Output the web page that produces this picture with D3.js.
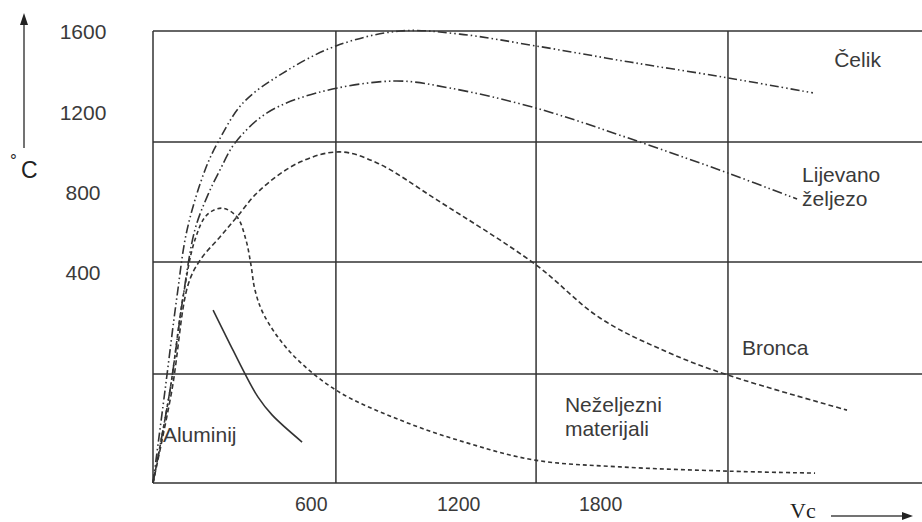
<!DOCTYPE html>
<html>
<head>
<meta charset="utf-8">
<script src="https://cdn.jsdelivr.net/npm/d3@7"></script>
<style>
  html, body { margin: 0; padding: 0; background: #fff; }
  svg { display: block; }
</style>
</head>
<body>
<svg id="chart" width="922" height="522"></svg>
<script>
// ---------- DATA ----------
const seriesNames = ["Čelik", "Lijevano željezo", "Bronca", "Neželjezni materijali", "Aluminij"];

const celik = [[0,0],[51,329],[101,658],[144,896],[220,1108],[275,1207],[380,1345],[549,1451],[773,1547],[1044,1600],[1297,1589],[1619,1547],[2016,1490],[2430,1434],[2789,1381]];
const lijevano = [[0,0],[72,329],[127,658],[177,896],[228,1012],[283,1108],[347,1204],[482,1310],[693,1381],[1023,1423],[1255,1398],[1619,1327],[2058,1207],[2430,1097],[2722,1005]];
const bronca = [[0,0],[80,329],[148,701],[199,789],[283,871],[355,942],[452,1037],[621,1136],[790,1172],[947,1133],[1200,1002],[1614,775],[1889,584],[2172,464],[2430,382],[2933,258]];
const nezeljezni = [[0,0],[72,329],[127,658],[177,860],[228,949],[292,973],[355,942],[393,860],[414,772],[431,683],[469,595],[579,464],[773,329],[1044,223],[1327,142],[1614,81],[1974,57],[2430,42],[2798,35]];
const aluminij = [[254,612],[321,499],[389,386],[444,304],[503,241],[630,145]];

const xTickLabels = [600, 1200, 1800];
const yTickLabels = [1600, 1200, 800, 400];
const xGrid = [773, 1619, 2430];
const yGrid = [386, 782, 1207];

const labelTexts = [["Čelik"], ["Lijevano", "željezo"], ["Bronca"], ["Neželjezni", "materijali"], ["Aluminij"]];
const labelAnchors = [[2879, 1473], [2743, 1065], [2489, 453], [1741, 251], [42, 145]];

// ---------- DRAW ----------
(function () {
const svg = d3.select("#chart");
const L = 153, R = 922, T = 31, B = 483;
const x = d3.scaleLinear().domain([0, 3250]).range([L, R]);
const y = d3.scaleLinear().domain([0, 1600]).range([B, T]);
const yLab = d3.scaleLinear().domain([400, 1600]).range([273, 32]);

const ink = "#333";
const textInk = "#3a3a3a";
const font = "'Liberation Sans', Arial, sans-serif";

// grid
const g = svg.append("g").attr("stroke", ink).attr("stroke-width", 1.5).attr("fill", "none");
g.selectAll(".vg").data(xGrid).join("line").attr("class", "vg")
  .attr("x1", d => x(d)).attr("x2", d => x(d)).attr("y1", T).attr("y2", B);
g.selectAll(".hg").data(yGrid).join("line").attr("class", "hg")
  .attr("x1", L).attr("x2", R).attr("y1", d => y(d)).attr("y2", d => y(d));
// frame
g.append("line").attr("x1", L).attr("x2", L).attr("y1", T).attr("y2", B);
g.append("line").attr("x1", L).attr("x2", R).attr("y1", T).attr("y2", T);
g.append("line").attr("x1", L).attr("x2", R).attr("y1", B).attr("y2", B);

// curves
const line = d3.line().x(d => x(d[0])).y(d => y(d[1])).curve(d3.curveCatmullRom.alpha(0.5));
const styles = [
  {data: celik, dash: "9,3,1.5,3,1.5,3"},
  {data: lijevano, dash: "10,3,1.5,3,1.5,3"},
  {data: bronca, dash: "5,3"},
  {data: nezeljezni, dash: "4,3"},
  {data: aluminij, dash: null}
];
svg.append("g").selectAll("path").data(styles).join("path")
  .attr("d", d => line(d.data))
  .attr("fill", "none")
  .attr("stroke", "#333")
  .attr("stroke-width", 1.6)
  .attr("stroke-dasharray", d => d.dash);

// x tick labels
svg.append("g").selectAll("text").data(xTickLabels).join("text")
  .attr("x", d => x(d)).attr("y", 511)
  .attr("font-family", font).attr("font-size", 19.5).attr("fill", textInk)
  .text(d => d);

// y tick labels
svg.append("g").selectAll("text").data(yTickLabels).join("text")
  .attr("x", 83).attr("y", d => yLab(d)).attr("dy", "0.35em")
  .attr("text-anchor", "middle")
  .attr("font-family", font).attr("font-size", 21).attr("fill", textInk)
  .text(d => d);

// series labels
labelTexts.forEach((lines, i) => {
  const t = svg.append("text")
    .attr("font-family", font).attr("font-size", 21).attr("fill", textInk);
  lines.forEach((s, j) => {
    t.append("tspan").attr("x", x(labelAnchors[i][0])).attr("y", y(labelAnchors[i][1]) + j * 24).text(s);
  });
});

// y axis arrow and unit
svg.append("line").attr("x1", 24).attr("x2", 24).attr("y1", 148).attr("y2", 22)
  .attr("stroke", "#444").attr("stroke-width", 1.5);
svg.append("path").attr("d", "M24,13 L20,25 L28,25 Z").attr("fill", "#222");
svg.append("text").attr("x", 10).attr("y", 166).attr("font-family", font).attr("font-size", 17).attr("fill", "#222").text("°");
svg.append("text").attr("x", 21).attr("y", 178).attr("font-family", font).attr("font-size", 23).attr("fill", "#222").text("C");

// x axis unit and arrow
svg.append("text").attr("x", 790).attr("y", 518).attr("font-family", "'Liberation Serif', 'Times New Roman', serif")
  .attr("font-size", 22).attr("fill", "#222").text("Vc");
svg.append("line").attr("x1", 831).attr("x2", 904).attr("y1", 516).attr("y2", 516)
  .attr("stroke", "#444").attr("stroke-width", 1.5);
svg.append("path").attr("d", "M913,516 L902,512 L902,520 Z").attr("fill", "#222");
})();
</script>
</body>
</html>
